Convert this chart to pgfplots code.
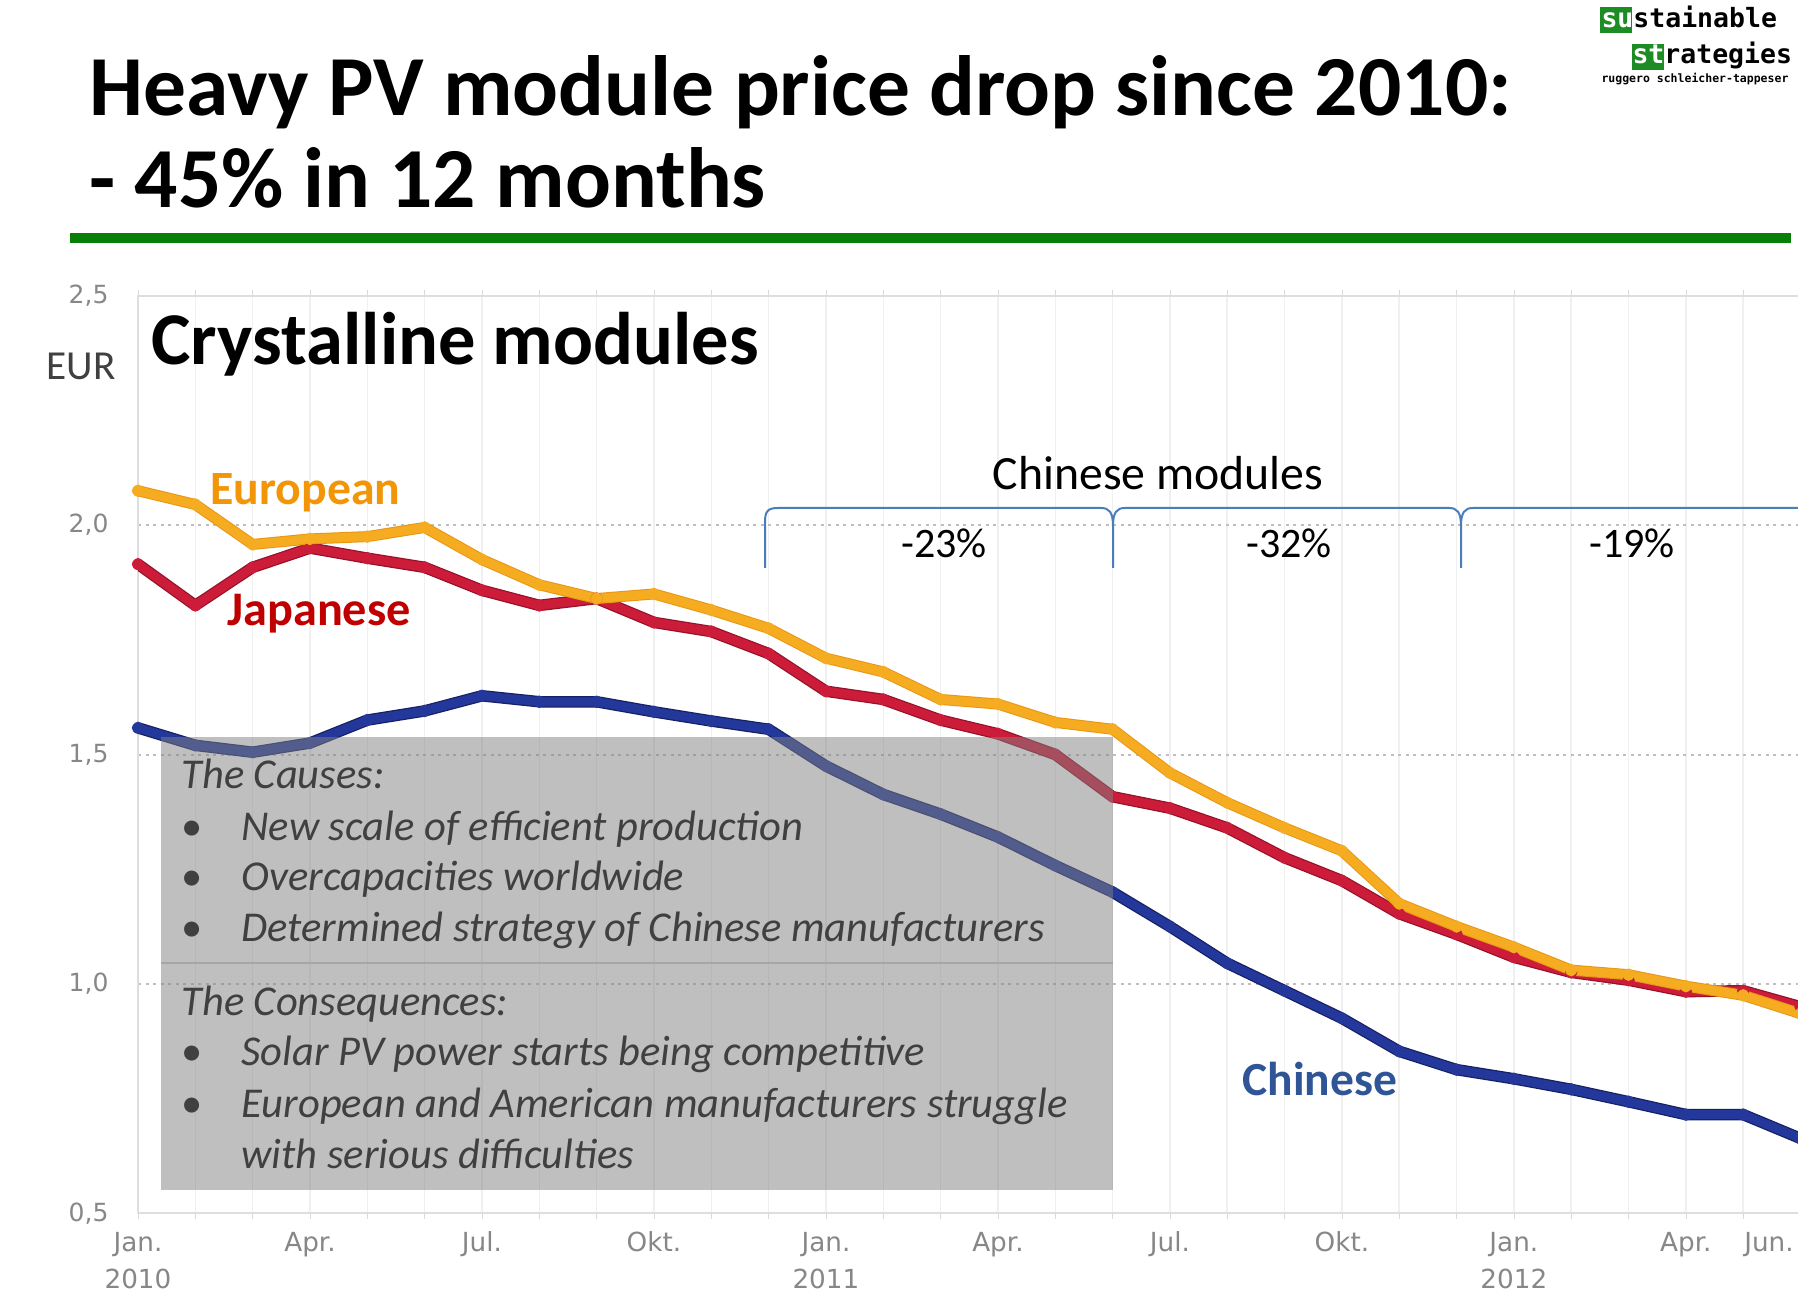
\documentclass[border=0pt]{standalone}
\usepackage{pgfplots}
\pgfplotsset{compat=1.18}
\usepackage{pgfplotstable}
\usepackage{fontspec}
\setmainfont{Carlito}
\newfontfamily\tickfont{DejaVu Sans}
\newfontfamily\logofont{DejaVu Sans Mono}
\definecolor{eurcol}{RGB}{245,172,32}
\definecolor{eurout}{RGB}{232,150,20}
\definecolor{japcol}{RGB}{205,28,58}
\definecolor{japout}{RGB}{150,18,40}
\definecolor{chicol}{RGB}{36,56,156}
\definecolor{chiout}{RGB}{22,32,100}
\definecolor{eurlab}{RGB}{242,150,8}
\definecolor{japlab}{RGB}{192,0,0}
\definecolor{chilab}{RGB}{47,85,151}
\definecolor{bracecol}{RGB}{74,126,187}
\definecolor{rulegreen}{RGB}{8,128,8}
\definecolor{logogreen}{RGB}{30,140,36}
\definecolor{boxtext}{RGB}{64,64,64}
\definecolor{tickgray}{RGB}{135,135,135}

\pgfplotstableread{
m eur jap chi
0 2.075 1.915 1.558
1 2.045 1.825 1.520
2 1.958 1.908 1.505
3 1.970 1.950 1.525
4 1.975 1.928 1.575
5 1.995 1.908 1.595
6 1.925 1.858 1.628
7 1.870 1.825 1.615
8 1.840 1.840 1.615
9 1.850 1.788 1.593
10 1.815 1.768 1.573
11 1.775 1.720 1.555
12 1.710 1.638 1.475
13 1.680 1.620 1.413
14 1.620 1.575 1.370
15 1.610 1.545 1.320
16 1.570 1.500 1.258
17 1.555 1.408 1.200
18 1.460 1.383 1.125
19 1.395 1.340 1.045
20 1.340 1.275 0.985
21 1.290 1.225 0.925
22 1.175 1.153 0.853
23 1.125 1.108 0.813
24 1.080 1.058 0.793
25 1.030 1.025 0.770
26 1.020 1.008 0.743
27 0.995 0.983 0.715
28 0.975 0.985 0.715
29 0.935 0.950 0.663
}\prices

\begin{document}
\begin{tikzpicture}
\useasboundingbox (0,0) rectangle (719.2pt,522.4pt);
\fill[white] (0,0) rectangle (719.2pt,522.4pt);
\begin{axis}[
  at={(55.2pt,37.12pt)}, anchor=south west,
  scale only axis, width=665.0pt, height=366.96pt,
  xmin=0, xmax=29, ymin=0.5, ymax=2.5,
  axis line style={draw=black!13, line width=0.8pt},
  xtick={0,3,6,9,12,15,18,21,24,27,28.45},
  xticklabels={{Jan.\\2010},Apr.,Jul.,Okt.,{Jan.\\2011},Apr.,Jul.,Okt.,{Jan.\\2012},Apr.,Jun.},
  minor xtick={0,1,...,29},
  xminorgrids, minor grid style={draw=black!6, line width=0.6pt},
  major tick length=0pt, minor tick length=2.5pt, tick align=outside,
  minor tick style={draw=black!15},
  ytick={0.5,1,1.5,2,2.5},
  yticklabels={{0,5},{1,0},{1,5},{2,0},{2,5}},
  ymajorgrids, major grid style={draw=black!25, dash pattern=on 1.2pt off 1.8pt, line width=0.8pt},
  xticklabel style={font=\tickfont\fontsize{10.5}{14.8}\selectfont, align=center, text=tickgray, yshift=-4pt},
  yticklabel style={font=\tickfont\fontsize{10}{12}\selectfont, text=tickgray, xshift=-8.3pt},
  line join=round,
]
\addplot[draw=chiout, line width=4.6pt, no marks] table[x=m,y=chi]{\prices};
\addplot[draw=chicol, line width=3.6pt, mark=*, mark size=0.7pt, mark options={fill=white!85!gray, draw=none}] table[x=m,y=chi]{\prices};
\addplot[draw=japout, line width=4.6pt, no marks] table[x=m,y=jap]{\prices};
\addplot[draw=japcol, line width=3.6pt, mark=*, mark size=0.7pt, mark options={fill=white!85!gray, draw=none}] table[x=m,y=jap]{\prices};
\addplot[draw=eurout, line width=4.4pt, no marks] table[x=m,y=eur]{\prices};
\addplot[draw=eurcol, line width=3.6pt, mark=*, mark size=0.7pt, mark options={fill=white!85!gray, draw=none}] table[x=m,y=eur]{\prices};
\end{axis}

\begin{scope}[x=0.4pt,y=-0.4pt,shift={(0,522.4pt)}]
% title
\node[anchor=base west, inner sep=0, font=\fontsize{34.2}{41}\selectfont\bfseries] at (89,116) {Heavy PV module price drop since 2010:};
\node[anchor=base west, inner sep=0, font=\fontsize{34.2}{41}\selectfont\bfseries] at (89,208) {- 45\% in 12 months};
\fill[rulegreen] (70,233) rectangle (1791,243);
% logo
\fill[logogreen] (1600,7) rectangle (1632,33);
\fill[logogreen] (1632,44) rectangle (1664,70);
\node[anchor=base west, inner sep=0, font=\logofont\bfseries\fontsize{10.6}{12}\selectfont] at (1601,28) {\textcolor{white}{su}stainable};
\node[anchor=base west, inner sep=0, font=\logofont\bfseries\fontsize{10.6}{12}\selectfont] at (1632,64) {\textcolor{white}{st}rategies};
\node[anchor=base west, inner sep=0, font=\logofont\bfseries\fontsize{4.6}{5}\selectfont] at (1601,83) {ruggero schleicher-tappeser};
% chart texts
\node[anchor=base west, inner sep=0, text=boxtext, font=\fontsize{16.5}{18}\selectfont] at (46,380) {EUR};
\node[anchor=base west, inner sep=0, font=\fontsize{29.8}{36}\selectfont\bfseries] at (151,365) {Crystalline modules};
\node[anchor=base west, inner sep=0, text=eurlab, font=\fontsize{19.1}{24}\selectfont\bfseries] at (210,505) {European};
\node[anchor=base west, inner sep=0, text=japlab, font=\fontsize{19.3}{24}\selectfont\bfseries] at (227,626) {Japanese};
\node[anchor=base west, inner sep=0, text=chilab, font=\fontsize{19}{24}\selectfont\bfseries] at (1242,1096) {Chinese};
\node[anchor=base, inner sep=0, font=\fontsize{19.1}{24}\selectfont] at (1158,490) {Chinese modules};
% braces
\draw[bracecol, line width=0.8pt]
  (765,568) -- (765,522) .. controls (765,511) and (768,508) .. (778,508) -- (1101,508)
  .. controls (1109,508) and (1113,512) .. (1113,526) -- (1113,568);
\draw[bracecol, line width=0.8pt]
  (1113,526) .. controls (1113,512) and (1117,508) .. (1125,508) -- (1449,508)
  .. controls (1457,508) and (1461,512) .. (1461,526) -- (1461,568);
\draw[bracecol, line width=0.8pt]
  (1461,526) .. controls (1461,512) and (1465,508) .. (1473,508) -- (1805,508);
\node[anchor=base, inner sep=0, font=\fontsize{16.8}{22}\selectfont] at (944,558) {-23\%};
\node[anchor=base, inner sep=0, font=\fontsize{16.8}{22}\selectfont] at (1289,558) {-32\%};
\node[anchor=base, inner sep=0, font=\fontsize{16.8}{22}\selectfont] at (1632,558) {-19\%};
% gray box
\fill[fill={rgb,255:red,128;green,128;blue,128}, fill opacity=0.5] (161,737) rectangle (1113,1190);
\draw[draw=black!35, line width=0.5pt] (161,963) -- (1113,963);
\begin{scope}[every node/.style={anchor=base west, inner sep=0, text=boxtext, font=\fontsize{17}{18}\selectfont\itshape}]
\node at (181,789) {The Causes:};
\node at (181,840.5) {\upshape•}; \node at (241,840.5) {New scale of efficient production};
\node at (181,891) {\upshape•}; \node at (241,891) {Overcapacities worldwide};
\node at (181,941.5) {\upshape•}; \node at (241,941.5) {Determined strategy of Chinese manufacturers};
\node at (181,1016) {The Consequences:};
\node at (181,1066) {\upshape•}; \node at (241,1066) {Solar PV power starts being competitive};
\node at (181,1118) {\upshape•}; \node at (241,1118) {European and American manufacturers struggle};
\node at (241,1168.5) {with serious difficulties};
\end{scope}
\end{scope}
\end{tikzpicture}
\end{document}
